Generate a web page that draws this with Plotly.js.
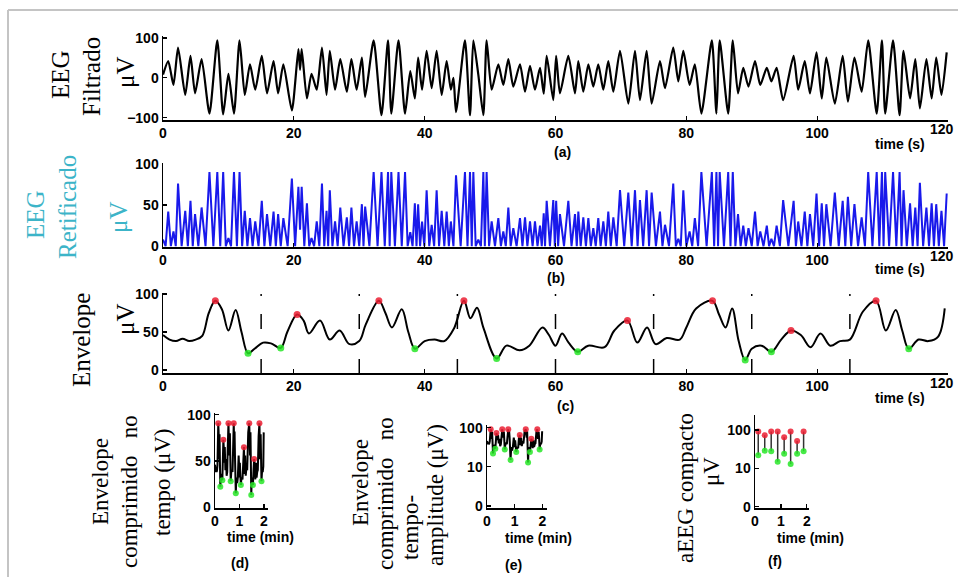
<!DOCTYPE html>
<html>
<head>
<meta charset="utf-8">
<script src="https://cdn.plot.ly/plotly-3.0.1.min.js"></script>
<style>html,body{margin:0;padding:0;background:#fff;}#chart{width:958px;height:577px;}</style>
</head>
<body>
<div id="chart"></div>
<script>
// ---------- DATA ----------
// (a) filtered EEG: time (s) and amplitude (µV) at the visible peaks/troughs
const eegTime = [0,0.8,1.6,2.3,3.4,4.2,4.9,5.9,7.1,8.3,9.2,10.0,10.85,11.7,12.5,13.3,14.1,15.1,15.9,16.9,17.6,18.4,19.7,20.7,20.95,21.2,22.0,22.7,23.5,24.3,25.0,25.5,26.3,27.1,28.1,28.8,29.6,30.4,30.9,32.2,33.4,34.4,34.9,36.0,37.0,37.8,38.5,39.0,39.6,40.3,41.07,41.83,42.6,43.36,44.0,44.4,44.79,46.16,46.93,47.44,48.2,48.97,49.47,50.24,51.26,52.02,52.79,53.55,54.57,55.34,56.1,56.86,57.63,58.2,58.65,59.66,60.1,60.68,61.96,62.98,63.49,64.25,65.02,65.78,66.54,67.31,68.07,68.84,69.86,71.13,72.15,72.91,73.93,74.7,75.97,76.74,78.0,78.77,79.54,80.5,81.3,82.3,83.9,84.6,85.1,86.4,87.1,87.9,88.7,89.5,90.5,91.3,92.3,93.0,93.8,94.8,96.4,97.1,98.1,98.9,99.9,100.7,101.4,102.7,103.9,104.7,105.7,106.8,107.8,109.1,109.9,110.4,111.6,112.6,113.2,114.2,115.0,115.7,116.7,117.5,118.2,119.0,119.8];
const eegValue = [8,42,-18,76,-43,55,-39,47,-90,94,-92,10,-90,94,-43,34,-30,55,-39,42,-39,34,-82,72,20,72,-52,10,-30,76,-43,68,-30,47,-35,47,-30,51,-48,94,-94,94,-90,94,-90,17,-52,51,-30,68,-26,68,-43,42,-30,0,-86,94,-94,94,8,-94,94,-30,34,-18,47,-22,34,-35,30,-30,25,-40,55,-56,55,-39,55,-39,42,-35,34,-22,34,-30,42,-35,68,-65,68,-56,68,-65,42,-26,76,-9,68,-18,34,-90,94,-90,94,-90,94,-39,25,-22,42,-18,25,-9,25,-56,55,-30,42,-39,64,-52,51,-65,55,-60,51,-35,94,-90,94,-90,94,-94,68,-52,47,-77,47,-52,51,-43,64];

// (b) rectified EEG: time (s) and amplitude (µV)
const rectTime = [0,0.4,0.8,1.2,1.6,1.95,2.3,2.85,3.4,3.8,4.2,4.55,4.9,5.4,5.9,6.5,7.1,7.7,8.3,8.75,9.2,9.6,10.0,10.4,10.85,11.3,11.7,12.1,12.5,12.9,13.3,13.7,14.1,14.6,15.1,15.5,15.9,16.4,16.9,17.25,17.6,18.0,18.4,19.05,19.7,20.2,20.7,20.95,21.2,21.6,22.0,22.35,22.7,23.1,23.5,23.9,24.3,24.65,25.0,25.25,25.5,25.9,26.3,26.7,27.1,27.6,28.1,28.45,28.8,29.2,29.6,30.0,30.4,30.65,30.9,31.55,32.2,32.8,33.4,33.9,34.4,34.65,34.9,35.45,36.0,36.5,37.0,37.4,37.8,38.15,38.5,38.75,39.0,39.3,39.6,39.95,40.3,40.7,41.07,41.45,41.83,42.2,42.6,43.0,43.36,43.7,44.0,44.4,44.79,45.5,46.16,46.55,46.93,47.2,47.44,47.8,48.2,48.6,48.97,49.2,49.47,49.85,50.24,50.75,51.26,51.65,52.02,52.4,52.79,53.15,53.55,54.05,54.57,54.95,55.34,55.7,56.1,56.5,56.86,57.25,57.63,57.9,58.2,58.4,58.65,59.15,59.66,59.9,60.1,60.4,60.68,61.3,61.96,62.45,62.98,63.25,63.49,63.85,64.25,64.65,65.02,65.4,65.78,66.15,66.54,66.9,67.31,67.7,68.07,68.45,68.84,69.35,69.86,70.5,71.13,71.65,72.15,72.55,72.91,73.4,73.93,74.3,74.7,75.35,75.97,76.35,76.74,77.35,78.0,78.4,78.77,79.15,79.54,80.0,80.5,80.9,81.3,81.8,82.3,83.1,83.9,84.25,84.6,84.85,85.1,85.75,86.4,86.75,87.1,87.5,87.9,88.3,88.7,89.1,89.5,90.0,90.5,90.9,91.3,91.8,92.3,92.65,93.0,93.4,93.8,94.3,94.8,95.6,96.4,96.75,97.1,97.6,98.1,98.5,98.9,99.4,99.9,100.3,100.7,101.05,101.4,102.05,102.7,103.3,103.9,104.3,104.7,105.2,105.7,106.25,106.8,107.3,107.8,108.45,109.1,109.5,109.9,110.15,110.4,111.0,111.6,112.1,112.6,112.9,113.2,113.7,114.2,114.6,115.0,115.35,115.7,116.2,116.7,117.1,117.5,117.85,118.2,118.6,119.0,119.4,119.8];
const rectValue = [8,0,42,0,18,0,76,0,43,0,55,0,39,0,47,0,90,0,90,0,90,0,10,0,90,0,90,0,43,0,34,0,30,0,55,0,39,0,42,0,39,0,34,0,82,0,72,20,72,0,52,0,10,0,30,0,76,0,43,0,68,0,30,0,47,0,35,0,47,0,30,0,51,0,48,0,90,0,90,0,90,0,90,0,90,0,90,0,17,0,52,0,51,0,30,0,68,0,26,0,68,0,43,0,42,0,30,0,86,0,90,0,90,0,90,0,8,0,90,0,90,0,30,0,34,0,18,0,47,0,22,0,34,0,35,0,30,0,30,0,25,0,40,0,55,0,56,0,55,0,39,0,55,0,39,0,42,0,35,0,34,0,22,0,34,0,30,0,42,0,35,0,68,0,65,0,68,0,56,0,68,0,65,0,42,0,26,0,76,0,9,0,68,0,18,0,34,0,90,0,90,0,90,0,90,0,90,0,90,0,39,0,25,0,22,0,42,0,18,0,25,0,9,0,25,0,56,0,55,0,30,0,42,0,39,0,64,0,52,0,51,0,65,0,55,0,60,0,51,0,35,0,90,0,90,0,90,0,90,0,90,0,90,0,68,0,52,0,47,0,77,0,47,0,52,0,51,0,43,0,64];

// (c) envelope: time (s) and amplitude (µV)
const envTime = [0,1,2,3,4,5,6,7,8,9,10,11.1,12,13,14,15.3,16.5,18,19,20.5,21.5,22.3,24,25.5,27,28.5,30,31,33,34,35,36.5,37.5,38.5,40,41.5,43,44.5,46,47,48,49,51,52.5,54.5,56,58,59,60,61,62,63.4,65,67.5,69,71,72.5,74,75.3,77,79,80,81.5,84,85,86,87,88,89,90,91.5,93,94.5,96,97.5,99,100.5,102,103.5,105,107,109,110.5,112,113,114,115.5,117,118.5,119.5];
const envValue = [46,40,38,41,38,40,45,75,91,80,52,79,50,22,28,36,35,29,50,73,65,48,65,40,52,34,38,60,91,75,56,80,50,28,38,40,38,55,91,68,82,55,15,32,26,32,56,46,32,48,36,24,32,30,52,65,36,56,34,42,40,56,81,91,73,56,81,38,13,28,32,24,40,52,46,30,48,32,38,40,77,91,52,79,52,28,40,38,44,81];

// per-segment (15 s) maxima and minima
const maxTime = [8,20.5,33,46,71,84,96,109];
const maxValue = [91,73,91,91,65,91,52,91];
const minTime = [13,18,38.5,51,63.4,89,93,114];
const minValue = [22,29,28,15,24,13,24,28];
const segBounds = [15,30,45,60,75,90,105];
const segCenter = [7.5,22.5,37.5,52.5,67.5,82.5,97.5,112.5];

const secTicks = [0,20,40,60,80,100,120];
const secTickText = ['0','20','40','60','80','100',''];
const lastSecLabel = '120';
const minTickVals = [0,60,120];
const minTickText = ['0','1','2'];

// ---------- STYLE ----------
const W = 958, H = 577;
const px = x => x / W;
const py = y => 1 - y / H;
const RED = 'rgba(235,30,50,0.85)';
const GREEN = 'rgba(40,230,40,0.85)';
const CYAN = '#3cb4c8';
const tickFont = {family: 'Liberation Sans, Arial, sans-serif', size: 14, color: '#000', weight: 'bold'};
const serif = 'Liberation Serif, Times New Roman, serif';

function axis(extra) {
  return Object.assign({
    showline: true, linecolor: '#000', linewidth: 1.5, ticks: 'inside', ticklen: 4,
    tickcolor: '#000', tickwidth: 1.2, showgrid: false, zeroline: false, mirror: false,
    tickfont: tickFont, fixedrange: true
  }, extra);
}

const traces = [];
// (a)
traces.push({x: eegTime, y: eegValue, xaxis: 'x', yaxis: 'y', mode: 'lines',
  line: {color: '#000', width: 2.2, shape: 'spline', smoothing: 0.6}, hoverinfo: 'skip'});
// (b)
traces.push({x: rectTime, y: rectValue, xaxis: 'x2', yaxis: 'y2', mode: 'lines',
  line: {color: 'rgb(25,25,235)', width: 2}, hoverinfo: 'skip'});
// (c)
traces.push({x: envTime, y: envValue, xaxis: 'x3', yaxis: 'y3', mode: 'lines',
  line: {color: '#000', width: 2, shape: 'spline', smoothing: 1}, hoverinfo: 'skip'});
traces.push({x: maxTime, y: maxValue, xaxis: 'x3', yaxis: 'y3', mode: 'markers',
  marker: {color: RED, size: 7}, hoverinfo: 'skip'});
traces.push({x: minTime, y: minValue, xaxis: 'x3', yaxis: 'y3', mode: 'markers',
  marker: {color: GREEN, size: 7}, hoverinfo: 'skip'});
// (d) and (e): compressed envelope
[['x4','y4'],['x5','y5']].forEach(([xa, ya]) => {
  traces.push({x: envTime, y: envValue, xaxis: xa, yaxis: ya, mode: 'lines',
    line: {color: '#000', width: 2}, hoverinfo: 'skip'});
  traces.push({x: maxTime, y: maxValue, xaxis: xa, yaxis: ya, mode: 'markers',
    marker: {color: RED, size: 6}, hoverinfo: 'skip'});
  traces.push({x: minTime, y: minValue, xaxis: xa, yaxis: ya, mode: 'markers',
    marker: {color: GREEN, size: 6}, hoverinfo: 'skip'});
});
// (f): compact aEEG, vertical bar per segment from min to max
const barX = [], barY = [];
segCenter.forEach((c, i) => { barX.push(c, c, null); barY.push(minValue[i], maxValue[i], null); });
traces.push({x: barX, y: barY, xaxis: 'x6', yaxis: 'y6', mode: 'lines',
  line: {color: '#333', width: 1.5}, hoverinfo: 'skip'});
traces.push({x: segCenter, y: maxValue, xaxis: 'x6', yaxis: 'y6', mode: 'markers',
  marker: {color: RED, size: 6}, hoverinfo: 'skip'});
traces.push({x: segCenter, y: minValue, xaxis: 'x6', yaxis: 'y6', mode: 'markers',
  marker: {color: GREEN, size: 6}, hoverinfo: 'skip'});

// segment boundaries in (c)
const shapes = segBounds.map(b => ({type: 'line', xref: 'x3', yref: 'y3', x0: b, x1: b, y0: -4, y1: 102,
  line: {color: '#000', width: 1.5, dash: '14px,30px,15px,18px,2px,60px'}}));
// figure frame
shapes.push({type: 'line', xref: 'paper', yref: 'paper', x0: px(8), x1: 1, y0: py(10), y1: py(10), line: {color: '#c4c4c4', width: 2}});
shapes.push({type: 'line', xref: 'paper', yref: 'paper', x0: px(8), x1: px(8), y0: py(10), y1: 0, line: {color: '#c4c4c4', width: 2}});

function ann(text, x, y, size, opts) {
  return Object.assign({text: text, xref: 'paper', yref: 'paper', x: px(x), y: py(y),
    xanchor: 'center', yanchor: 'middle', showarrow: false,
    font: {family: 'Liberation Sans, Arial, sans-serif', size: size, color: '#000', weight: 'bold'}}, opts || {});
}
function rot(text, x, y, size, color) {
  return ann(text, x, y, size, {textangle: -90, font: {family: serif, size: size, color: color || '#000'}});
}
// last x tick label of the three long panels, kept inside the page
function lastTick(y) {
  return ann(lastSecLabel, 956, y, 14, {xanchor: 'right'});
}

const annotations = [
  lastTick(129), lastTick(256), lastTick(383),
  // panel labels / axis captions
  ann('time (s)', 900, 144, 14), ann('(a)', 562, 152, 14),
  ann('time (s)', 900, 269, 14), ann('(b)', 556, 278, 14),
  ann('time (s)', 900, 398, 14), ann('(c)', 565, 406, 14),
  ann('time (min)', 260, 537, 14), ann('(d)', 240, 563, 14),
  ann('time (min)', 538, 538, 14), ann('(e)', 513, 565, 14),
  ann('time (min)', 810, 538, 14), ann('(f)', 775, 561, 14),
  // rotated titles
  rot('EEG', 60, 75, 25), rot('Filtrado', 92, 77, 25), rot('μV', 125, 73, 25),
  rot('EEG', 36, 215, 25, CYAN), rot('Retificado', 67, 207, 25, CYAN), rot('μV', 119, 218, 25, CYAN),
  rot('Envelope', 81, 340, 25), rot('μV', 125, 320, 25),
  rot('Envelope', 101, 482, 23), rot('comprimido&nbsp;&nbsp;&nbsp;no', 129, 492, 23), rot('tempo (μV)', 163, 482, 23),
  rot('Envelope', 360, 483, 23), rot('comprimido&nbsp;&nbsp;&nbsp;no', 385, 494, 23), rot('tempo-', 410, 528, 23), rot('amplitude (μV)', 435, 495, 23),
  rot('aEEG compacto', 685, 488, 23), rot('μV', 711, 472, 23)
];

const layout = {
  width: W, height: H, margin: {l: 0, r: 0, t: 0, b: 0},
  paper_bgcolor: '#fff', plot_bgcolor: 'rgba(0,0,0,0)', showlegend: false,
  xaxis:  axis({domain: [px(163), px(948)], range: [0, 120], tickvals: secTicks, ticktext: secTickText, anchor: 'y'}),
  yaxis:  axis({domain: [py(120), py(36.4)], range: [-106, 104], tickvals: [-100, 0, 100], anchor: 'x'}),
  xaxis2: axis({domain: [px(163), px(948)], range: [0, 120], tickvals: secTicks, ticktext: secTickText, anchor: 'y2'}),
  yaxis2: axis({domain: [py(247), py(163)], range: [-1, 101], tickvals: [0, 50, 100], anchor: 'x2'}),
  xaxis3: axis({domain: [px(163), px(948)], range: [0, 120], tickvals: secTicks, ticktext: secTickText, anchor: 'y3'}),
  yaxis3: axis({domain: [py(373), py(292.5)], range: [-4, 102], tickvals: [0, 50, 100], anchor: 'x3'}),
  xaxis4: axis({domain: [px(215), px(268)], range: [0, 130], tickvals: minTickVals, ticktext: minTickText, anchor: 'y4'}),
  yaxis4: axis({domain: [py(508), py(413)], range: [-1, 102], tickvals: [0, 50, 100], anchor: 'x4'}),
  xaxis5: axis({domain: [px(487), px(547)], range: [0, 130], tickvals: minTickVals, ticktext: minTickText, anchor: 'y5'}),
  yaxis5: axis({domain: [py(508), py(425)], type: 'log', range: [-0.05, 2.07], tickvals: [1, 10, 100], ticktext: ['0', '10', '100'], anchor: 'x5'}),
  xaxis6: axis({domain: [px(755), px(809)], range: [0, 125], tickvals: minTickVals, ticktext: minTickText, anchor: 'y6'}),
  yaxis6: axis({domain: [py(508), py(415)], type: 'log', range: [-0.03, 2.39], tickvals: [1, 10, 100], ticktext: ['0', '10', '100'], anchor: 'x6'}),
  shapes: shapes,
  annotations: annotations
};

Plotly.newPlot('chart', traces, layout, {staticPlot: true, displayModeBar: false});
</script>
</body>
</html>
